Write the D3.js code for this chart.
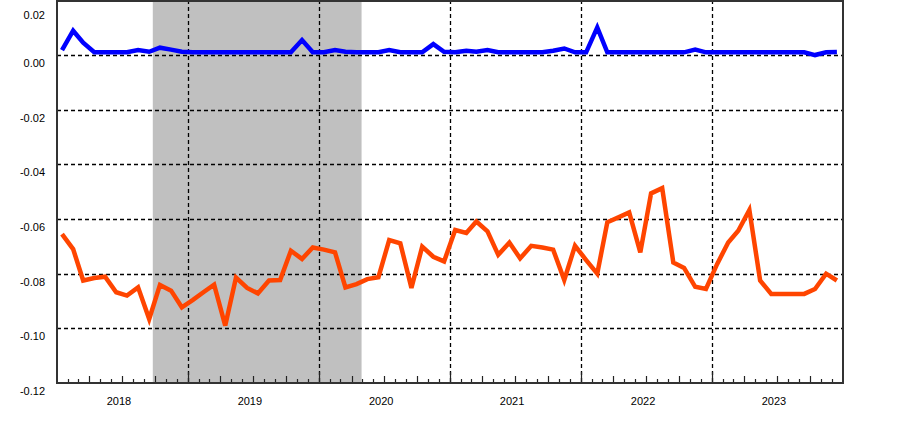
<!DOCTYPE html>
<html>
<head>
<meta charset="utf-8">
<script src="https://cdn.jsdelivr.net/npm/d3@7"></script>
<style>
  html, body { margin: 0; padding: 0; background: #fff; }
  svg { display: block; }
  text { font-family: "Liberation Sans", Arial, sans-serif; font-size: 11px; fill: #000; }
</style>
</head>
<body>
<svg id="chart" width="900" height="422"></svg>
<script>
// ---- data ----
const startYear = 2018;
const months = d3.range(72).map(i => new Date(startYear, i, 15));
const orangeSeries = [
  -0.0655, -0.0710, -0.0825, -0.0816, -0.0811, -0.0868, -0.0880, -0.0850, -0.0966, -0.0841, -0.0862, -0.0923,
  -0.0896, -0.0866, -0.0840, -0.0990, -0.0814, -0.0852, -0.0872, -0.0825, -0.0823, -0.0716, -0.0746, -0.0704,
  -0.0712, -0.0722, -0.0850, -0.0838, -0.0820, -0.0813, -0.0677, -0.0689, -0.0852, -0.0701, -0.0738, -0.0755,
  -0.0640, -0.0651, -0.0609, -0.0645, -0.0731, -0.0686, -0.0744, -0.0698, -0.0704, -0.0712, -0.0823, -0.0698,
  -0.0750, -0.0800, -0.0612, -0.0594, -0.0576, -0.0722, -0.0506, -0.0487, -0.0759, -0.0779, -0.0848, -0.0856,
  -0.0765, -0.0686, -0.0643, -0.0567, -0.0825, -0.0874, -0.0874, -0.0874, -0.0874, -0.0856, -0.0800, -0.0825
];
const blueSeries = [
  0.0018, 0.0089, 0.0045, 0.0010, 0.0010, 0.0010, 0.0010, 0.0018, 0.0012, 0.0027, 0.0020, 0.0012,
  0.0010, 0.0010, 0.0010, 0.0010, 0.0010, 0.0010, 0.0010, 0.0010, 0.0010, 0.0010, 0.0055, 0.0010,
  0.0010, 0.0018, 0.0012, 0.0010, 0.0010, 0.0010, 0.0018, 0.0010, 0.0010, 0.0010, 0.0040, 0.0012,
  0.0010, 0.0016, 0.0012, 0.0018, 0.0010, 0.0010, 0.0010, 0.0010, 0.0010, 0.0016, 0.0024, 0.0010,
  0.0010, 0.0101, 0.0010, 0.0010, 0.0010, 0.0010, 0.0010, 0.0010, 0.0010, 0.0010, 0.0020, 0.0010,
  0.0010, 0.0010, 0.0010, 0.0010, 0.0010, 0.0010, 0.0010, 0.0010, 0.0010, 0.0000, 0.0010, 0.0011
];
const yTickValues = [0.02, 0.00, -0.02, -0.04, -0.06, -0.08, -0.10, -0.12];
const yTickLabels = ["0.02", "0.00", "-0.02", "-0.04", "-0.06", "-0.08", "-0.10", "-0.12"];
const yearLabels = ["2018", "2019", "2020", "2021", "2022", "2023"];
const shadeStart = new Date(2018, 8, 25);
const shadeEnd = new Date(2020, 3, 29);

// ---- layout ----
const mLeft = 57, mRight = 843, mTop = 0.4, mBottom = 383;
const svg = d3.select("#chart");

const x = d3.scaleTime()
  .domain([new Date(startYear, 0, 1), new Date(startYear + 6, 0, 1)])
  .range([mLeft, mRight]);
const y = d3.scaleLinear().domain([-0.12, 0.02]).range([mBottom, mTop]);

// shading
svg.append("rect")
  .attr("x", x(shadeStart)).attr("y", 0)
  .attr("width", x(shadeEnd) - x(shadeStart)).attr("height", mBottom)
  .attr("fill", "#c0c0c0");

// horizontal grid
svg.append("g").selectAll("line")
  .data(yTickValues.filter(v => v < 0.015 && v > -0.115))
  .join("line")
  .attr("x1", mLeft).attr("x2", mRight)
  .attr("y1", d => Math.round(y(d)) + 0.5).attr("y2", d => Math.round(y(d)) + 0.5)
  .attr("stroke", "#000").attr("stroke-width", 1.3).attr("stroke-dasharray", "4,3");

// vertical grid at year starts
const yearStarts = d3.range(1, 6).map(k => new Date(startYear + k, 0, 1));
svg.append("g").selectAll("line")
  .data(yearStarts)
  .join("line")
  .attr("x1", d => Math.round(x(d)) + 0.5).attr("x2", d => Math.round(x(d)) + 0.5)
  .attr("y1", 0).attr("y2", mBottom)
  .attr("stroke", "#000").attr("stroke-width", 1.3).attr("stroke-dasharray", "4,3");

// series lines
const line = d3.line().x((d, i) => x(months[i])).y(d => y(d));
svg.append("path")
  .datum(orangeSeries)
  .attr("d", line)
  .attr("fill", "none").attr("stroke", "#ff4500").attr("stroke-width", 4.5)
  .attr("stroke-linejoin", "miter");
svg.append("path")
  .datum(blueSeries)
  .attr("d", line)
  .attr("fill", "none").attr("stroke", "#0000ff").attr("stroke-width", 4.5)
  .attr("stroke-linejoin", "miter");

// month ticks on bottom axis (pointing up)
const monthTicks = d3.timeMonth.range(new Date(startYear, 1, 1), new Date(startYear + 6, 0, 1));
svg.append("g").selectAll("line")
  .data(monthTicks)
  .join("line")
  .attr("x1", d => Math.round(x(d)) + 0.5).attr("x2", d => Math.round(x(d)) + 0.5)
  .attr("y1", mBottom)
  .attr("y2", d => mBottom - (d.getMonth() === 0 ? 11 : (d.getMonth() % 3 === 0 ? 7 : 4)))
  .attr("stroke", "#222").attr("stroke-width", 1.2);

// frame
svg.append("rect")
  .attr("x", mLeft).attr("y", 1)
  .attr("width", mRight - mLeft).attr("height", mBottom - 1)
  .attr("fill", "none").attr("stroke", "#333").attr("stroke-width", 2);

// y labels
svg.append("g").selectAll("text")
  .data(yTickValues)
  .join("text")
  .attr("x", 45)
  .attr("y", d => Math.max(y(d) + 8, 15))
  .attr("dy", "0.35em")
  .attr("text-anchor", "end")
  .text((d, i) => yTickLabels[i]);

// year labels
svg.append("g").selectAll("text")
  .data(yearLabels)
  .join("text")
  .attr("x", d => x(new Date(+d, 6, 1)) - 3)
  .attr("y", 405)
  .attr("text-anchor", "middle")
  .text(d => d);
</script>
</body>
</html>
